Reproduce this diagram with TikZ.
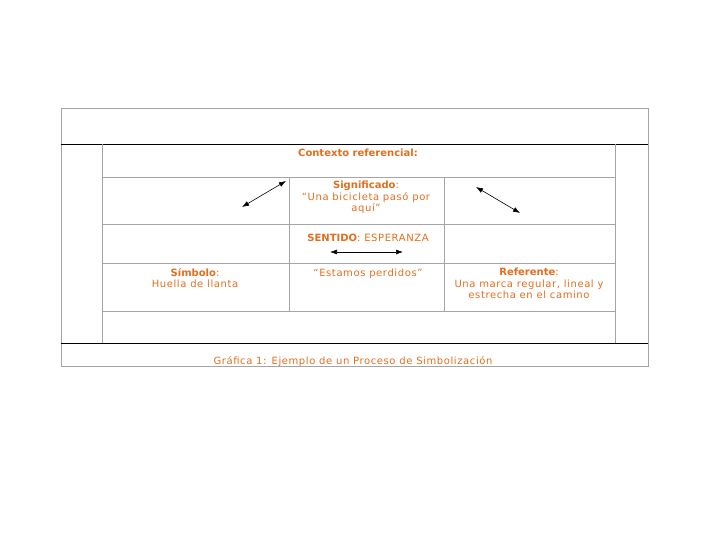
\documentclass[tikz,border=0pt]{standalone}
\usepackage{fontspec}
\setmainfont{DejaVu Sans}[LetterSpace=6,BoldFeatures={LetterSpace=0}]
\usepackage{tikz}
\usetikzlibrary{arrows.meta}
\definecolor{naranja}{RGB}{226,110,30}
\definecolor{gris}{RGB}{165,165,165}

\begin{document}
\begin{tikzpicture}[x=1pt,y=-1pt,
  every node/.style={text=naranja,inner sep=0pt,font=\fontsize{10}{11.5}\selectfont},
  celda/.style={align=center,anchor=north},
  flecha/.style={{Latex[length=7pt,width=5pt]}-{Latex[length=7pt,width=5pt]},black,line width=0.6pt}]
\useasboundingbox (0,0) rectangle (720,540);
% marco
\draw[gris,line width=0.8pt] (61,108) rectangle (648,366);
\draw[line width=0.8pt] (61,144) -- (648,144);
\draw[line width=0.8pt] (61,343) -- (648,343);
% tabla
\draw[gris,line width=0.8pt] (102,144) -- (102,343);
\draw[gris,line width=0.8pt] (615,144) -- (615,343);
\draw[gris,line width=0.8pt] (102,177) -- (615,177);
\draw[gris,line width=0.8pt] (102,224) -- (615,224);
\draw[gris,line width=0.8pt] (102,263) -- (615,263);
\draw[gris,line width=0.8pt] (102,311) -- (615,311);
\draw[gris,line width=0.8pt] (289,177) -- (289,311);
\draw[gris,line width=0.8pt] (444,177) -- (444,311);
% textos
\node[celda] (contexto) at (358,149) {\textbf{Contexto referencial:}};
\node[celda] (significado) at (366,181) {\textbf{Significado}:\\“Una bicicleta pasó por\\aquí”};
\node[celda] (sentido) at (368,234) {\textbf{SENTIDO}: ESPERANZA};
\node[celda] (simbolo) at (195,268) {\textbf{Símbolo}:\\Huella de llanta};
\node[celda] (estamos) at (368,269) {“Estamos perdidos”};
\node[celda] (referente) at (529,268) {\textbf{Referente}:\\Una marca regular, lineal y\\estrecha en el camino};
\node[celda] (grafica) at (353,356) {Gráfica 1: Ejemplo de un Proceso de Simbolización};
% flechas
\coordinate (a1) at (242,207);
\coordinate (a2) at (286,181);
\coordinate (b1) at (476,187);
\coordinate (b2) at (520,213);
\coordinate (c1) at (330,252);
\coordinate (c2) at (403,252);
\draw[flecha] (a1) -- (a2);
\draw[flecha] (b1) -- (b2);
\draw[flecha] (c1) -- (c2);
\end{tikzpicture}
\end{document}
